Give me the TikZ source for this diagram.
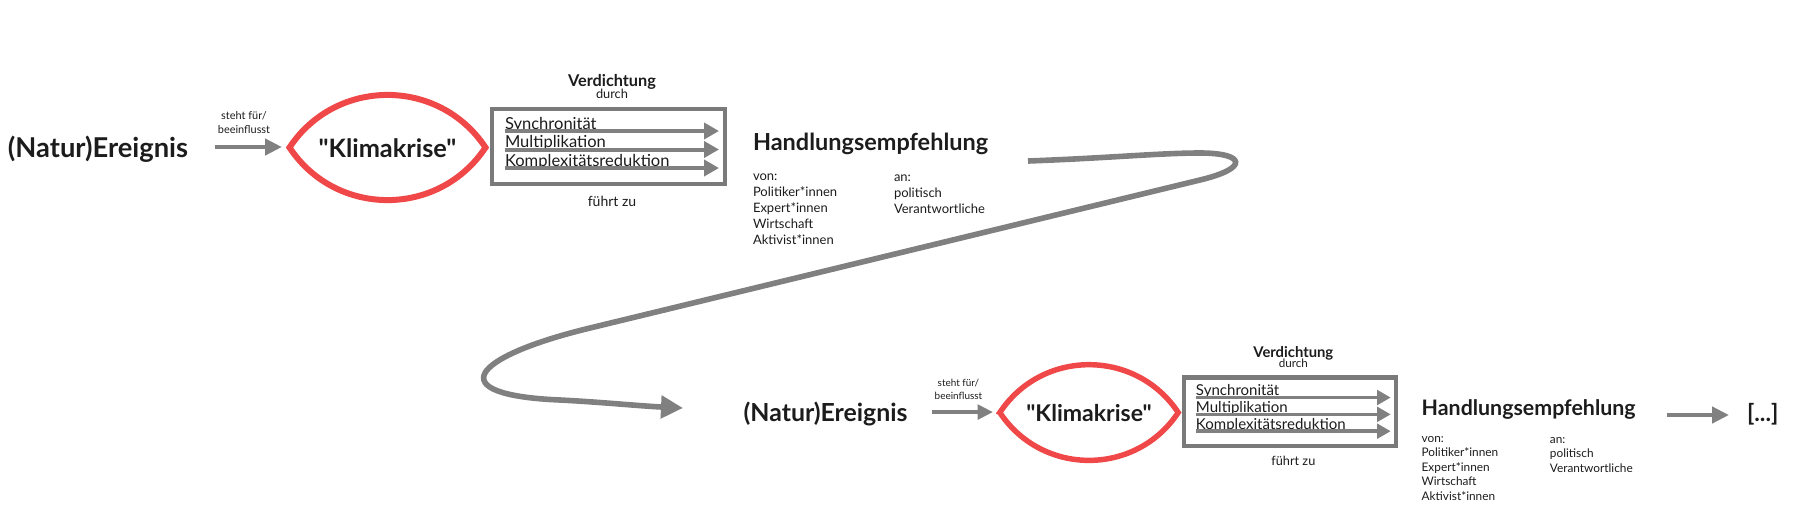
\documentclass[tikz,border=0pt]{standalone}
\usepackage{fontspec}
\setmainfont{Lato}[Ligatures=TeXOff]
\usetikzlibrary{arrows.meta}
\definecolor{lred}{RGB}{240,72,72}
\definecolor{lgray}{RGB}{128,128,128}
\definecolor{boxgray}{RGB}{122,122,122}
\definecolor{txt}{RGB}{28,28,28}
\tikzset{
  every node/.style={inner sep=0pt, outer sep=0pt, text=txt},
  bigb/.style={font=\fontsize{20.5pt}{23pt}\selectfont\bfseries},
  klb/.style={font=\fontsize{19pt}{23pt}\selectfont\bfseries},
  hb/.style={font=\fontsize{17.6pt}{20pt}\selectfont\bfseries},
  vb/.style={font=\fontsize{12.2pt}{14pt}\selectfont\bfseries},
  smt/.style={font=\fontsize{9.6pt}{11pt}\selectfont},
  fzt/.style={font=\fontsize{10.5pt}{12pt}\selectfont},
  tinyt/.style={font=\fontsize{8.2pt}{10pt}\selectfont},
  itemt/.style={font=\fontsize{12.4pt}{14pt}\selectfont},
  listt/.style={font=\fontsize{9.75pt}{12pt}\selectfont},
  lensline/.style={draw=lred, line width=\f*4.5pt, line join=miter},
  boxst/.style={draw=boxgray, line width=\f*3.3pt},
  garrow/.style={draw=lgray, line width=\f*3.4pt, -{Triangle[length=12.75pt,width=12pt,scale=\f]}},
  iarrow/.style={draw=lgray, line width=\f*3pt, -{Triangle[length=11.25pt,width=12pt,scale=\f]}},
  curvest/.style={draw=lgray, line width=4.2pt, -{Triangle[length=16.5pt,width=16.5pt]}},
}
\newcommand\diagrow[2]{%
  \def\f{#2}%
  \node[bigb, anchor=base] (ev#1) at (98,157) {(Natur)Ereignis};
  \node[tinyt, anchor=base] (st#1) at (244,119) {steht für/};
  \node[tinyt, anchor=base] (bf#1) at (244,133) {beeinflusst};
  \coordinate (as#1) at (215,147);
  \coordinate (ae#1) at (282,147);
  \draw[garrow] (as#1) -- (ae#1);
  \coordinate (kl#1) at (289.5,147.5);
  \coordinate (kr#1) at (485.5,147.5);
  \draw[lensline] (kl#1) .. controls (336,77.4) and (439,77.4) .. (kr#1)
     .. controls (439,217.6) and (336,217.6) .. cycle;
  \node[klb, anchor=base] (k#1) at (387.5,157) {"Klimakrise"};
  \node[vb, anchor=base] (vd#1) at (612,86.7) {Verdichtung};
  \node[smt, anchor=base] (du#1) at (612,98.3) {durch};
  \node[boxst, minimum width=174.75pt, minimum height=56.25pt] (bx#1) at (608.5,146.5) {};
  \node[itemt, anchor=base west] (sy#1) at (505,129) {Synchronität};
  \node[itemt, anchor=base west] (mu#1) at (505,147.5) {Multiplikation};
  \node[itemt, anchor=base west] (ko#1) at (505,166) {Komplexitätsreduktion};
  \coordinate (s1#1) at (505,131);   \coordinate (s2#1) at (719,131);
  \coordinate (m1#1) at (505,149.5); \coordinate (m2#1) at (719,149.5);
  \coordinate (c1#1) at (505,168);   \coordinate (c2#1) at (719,168);
  \draw[iarrow] (s1#1) -- (s2#1);
  \draw[iarrow] (m1#1) -- (m2#1);
  \draw[iarrow] (c1#1) -- (c2#1);
  \node[fzt, anchor=base] (fz#1) at (612,206) {führt zu};
  \node[hb, anchor=base west] (h#1) at (753,150.7) {Handlungsempfehlung};
  \node[listt, anchor=base west] (von#1) at (753,180)
    {\parbox[t]{80pt}{\fontsize{9.75pt}{12pt}\selectfont von:\\Politiker*innen\\Expert*innen\\Wirtschaft\\Aktivist*innen}};
  \node[listt, anchor=base west] (an#1) at (894,181)
    {\parbox[t]{80pt}{\fontsize{9.75pt}{12pt}\selectfont an:\\politisch\\Verantwortliche}};
}
\begin{document}
\begin{tikzpicture}[x=0.75pt, y=-0.75pt]
  \def\f{1}
  \useasboundingbox (0,0) rectangle (1810,522);
  \begin{scope}
    \diagrow{1}{1}
  \end{scope}
  \begin{scope}[shift={(736.4,278.3)}, scale=0.91, transform shape]
    \diagrow{2}{0.91}
  \end{scope}
  % S-shaped connector
  \coordinate (cs) at (1028,161);
  \coordinate (ce) at (683,408);
  \draw[curvest] (cs) .. controls (1110,158) and (1160,153) .. (1200,153)
     .. controls (1245,153) and (1250,168) .. (1200,180)
     -- (590,328)
     .. controls (470,357) and (440,395) .. (560,400)
     .. controls (600,402) and (640,406) .. (ce);
  % final arrow
  \coordinate (fa) at (1667,415);
  \coordinate (fb) at (1729,415);
  \draw[garrow] (fa) -- (fb);
  \node[font=\fontsize{17.6pt}{20pt}\selectfont\bfseries, anchor=base west] (dots) at (1747,421) {[...]};
\end{tikzpicture}
\end{document}
